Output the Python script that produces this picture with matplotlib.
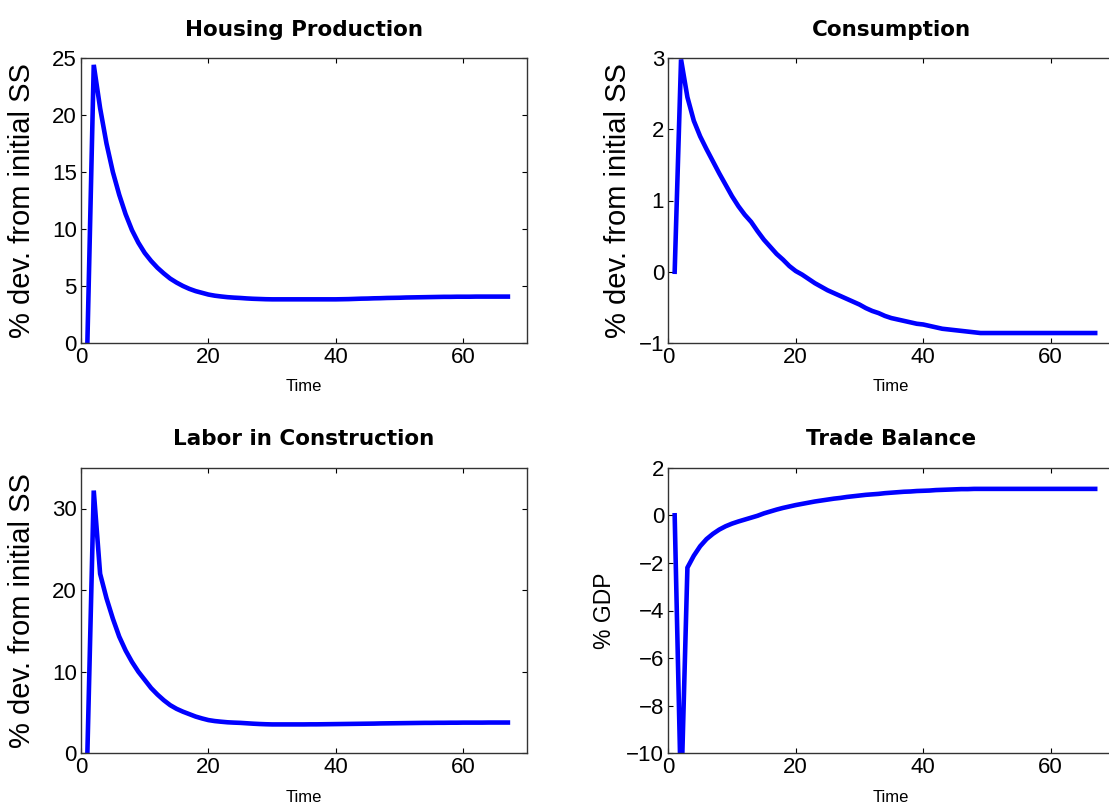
import matplotlib
matplotlib.use("Agg")
import matplotlib.pyplot as plt
import numpy as np

time = list(range(1, 68))

housing = [0.0, 24.4, 20.6, 17.5, 15.0, 13.0, 11.3, 9.9, 8.8, 7.9,
           7.2, 6.6, 6.1, 5.65, 5.3, 5.0, 4.75, 4.55, 4.4, 4.25,
           4.15, 4.08, 4.02, 3.98, 3.95, 3.91, 3.88, 3.86, 3.84, 3.83,
           3.83, 3.83, 3.83, 3.83, 3.83, 3.83, 3.83, 3.83, 3.83, 3.83,
           3.84, 3.85, 3.87, 3.89, 3.90, 3.92, 3.93, 3.95, 3.96, 3.97,
           3.99, 4.00, 4.01, 4.02, 4.03, 4.04, 4.05, 4.05, 4.06, 4.06,
           4.06, 4.07, 4.07, 4.07, 4.07, 4.07, 4.07]

consumption = [0.0, 2.98, 2.45, 2.12, 1.90, 1.72, 1.55, 1.38, 1.22, 1.06,
               0.92, 0.80, 0.70, 0.57, 0.45, 0.35, 0.25, 0.17, 0.08, 0.01,
               -0.04, -0.10, -0.16, -0.21, -0.26, -0.30, -0.34, -0.38, -0.42, -0.46,
               -0.51, -0.55, -0.58, -0.62, -0.65, -0.67, -0.69, -0.71, -0.73, -0.74,
               -0.76, -0.78, -0.80, -0.81, -0.82, -0.83, -0.84, -0.85, -0.86, -0.86,
               -0.86, -0.86, -0.86, -0.86, -0.86, -0.86, -0.86, -0.86, -0.86, -0.86,
               -0.86, -0.86, -0.86, -0.86, -0.86, -0.86, -0.86]

labor = [0.0, 32.2, 22.0, 19.0, 16.5, 14.3, 12.6, 11.2, 10.0, 9.0,
         8.0, 7.2, 6.5, 5.9, 5.45, 5.1, 4.8, 4.5, 4.27, 4.07,
         3.95, 3.87, 3.80, 3.76, 3.73, 3.68, 3.63, 3.59, 3.56, 3.54,
         3.54, 3.54, 3.54, 3.54, 3.54, 3.55, 3.55, 3.56, 3.57, 3.58,
         3.59, 3.60, 3.61, 3.62, 3.63, 3.64, 3.66, 3.67, 3.68, 3.69,
         3.70, 3.71, 3.72, 3.73, 3.73, 3.74, 3.74, 3.75, 3.75, 3.76,
         3.76, 3.76, 3.76, 3.77, 3.77, 3.77, 3.77]

trade = [0.0, -12.0, -2.2, -1.7, -1.3, -1.0, -0.78, -0.6, -0.46, -0.35,
         -0.26, -0.18, -0.10, -0.02, 0.08, 0.16, 0.24, 0.31, 0.37, 0.43,
         0.48, 0.53, 0.58, 0.62, 0.66, 0.70, 0.73, 0.77, 0.80, 0.83,
         0.86, 0.88, 0.90, 0.93, 0.95, 0.97, 0.99, 1.00, 1.02, 1.03,
         1.04, 1.06, 1.07, 1.08, 1.09, 1.10, 1.10, 1.11, 1.11, 1.11,
         1.11, 1.11, 1.11, 1.11, 1.11, 1.11, 1.11, 1.11, 1.11, 1.11,
         1.11, 1.11, 1.11, 1.11, 1.11, 1.11, 1.11]

titles = ["Housing Production", "Consumption", "Labor in Construction", "Trade Balance"]
ylabels = ["% dev. from initial SS", "% dev. from initial SS", "% dev. from initial SS", "% GDP"]
series = [housing, consumption, labor, trade]
ylims = [(0, 25), (-1, 3), (0, 35), (-10, 2)]
yticks = [[0, 5, 10, 15, 20, 25], [-1, 0, 1, 2, 3], [0, 10, 20, 30], [-10, -8, -6, -4, -2, 0, 2]]
xticks = [0, 20, 40, 60]

W, H = 1109, 807
fig = plt.figure(figsize=(W / 100, H / 100), dpi=100)
fig.patch.set_facecolor("white")

# pixel boxes: left, top, right, bottom
boxes = [(81, 58, 527, 343), (668.3, 58, 1114.3, 343),
         (81, 467.7, 527, 753.3), (668.3, 467.7, 1114.3, 753.3)]
ylabel_x = [-0.101, -0.081, -0.101, -0.118]
ylabel_fs = [21, 21, 21, 16.5]

for i in range(4):
    l, t, r, b = boxes[i]
    ax = fig.add_axes([l / W, (H - b) / H, (r - l) / W, (b - t) / H])
    ax.plot(time, series[i], color=(0, 0, 1), lw=3.3, solid_joinstyle="miter")
    ax.set_xlim(0, 70)
    ax.set_ylim(*ylims[i])
    ax.set_xticks(xticks)
    ax.set_yticks(yticks[i])
    ax.tick_params(direction="in", length=3.6, width=0.8, top=True,
                   right=(i % 2 == 0), labelsize=16, pad=3, colors="black")
    for lab in ax.get_xticklabels() + ax.get_yticklabels():
        lab.set_fontfamily("Liberation Sans")
    for sp in ax.spines.values():
        sp.set_color("#333333")
        sp.set_linewidth(1.0)
    ax.set_title(titles[i], fontsize=15.5, fontweight="bold", family="DejaVu Sans", pad=16)
    ax.set_xlabel("Time", fontsize=12, family="Liberation Sans", labelpad=8)
    ax.set_ylabel(ylabels[i], fontsize=ylabel_fs[i], family="Liberation Sans")
    ax.yaxis.set_label_coords(ylabel_x[i], 0.5)

fig.savefig("out.png", dpi=100, facecolor="white")
